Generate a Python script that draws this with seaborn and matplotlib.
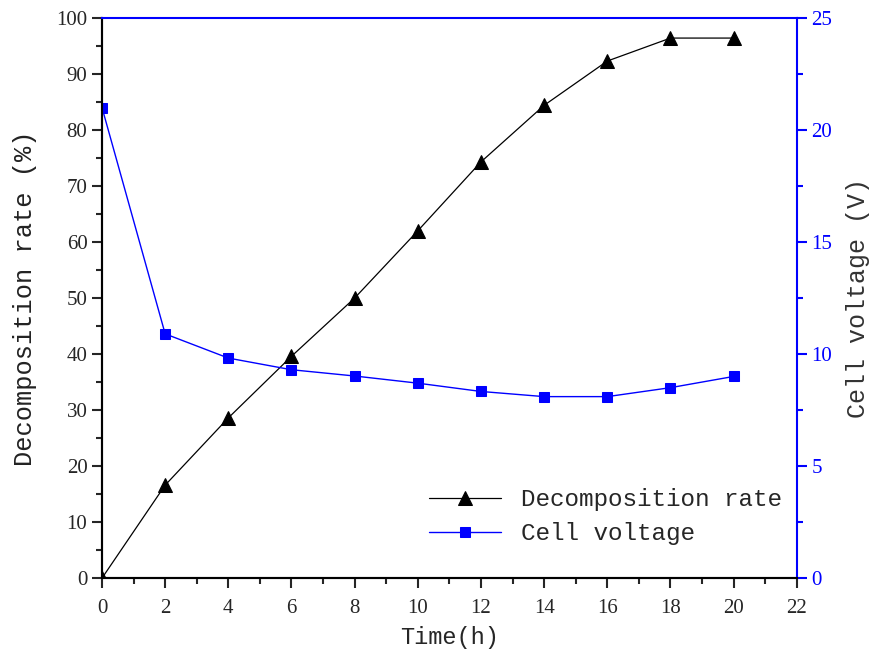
import matplotlib
matplotlib.use("Agg")
import matplotlib.pyplot as plt
import seaborn as sns
import pandas as pd
from matplotlib.ticker import MultipleLocator

time_h = [0, 2, 4, 6, 8, 10, 12, 14, 16, 18, 20]
decomposition = [0, 16.6, 28.6, 39.6, 50.0, 62.0, 74.3, 84.4, 92.3, 96.4, 96.4]
voltage = [21.0, 10.9, 9.82, 9.3, 9.02, 8.7, 8.33, 8.1, 8.1, 8.5, 9.0]

sns.set_style("ticks")
plt.rcParams['font.family'] = ['Liberation Serif', 'DejaVu Sans']

df = pd.DataFrame({"t": time_h, "d": decomposition, "v": voltage})

fig = plt.figure(figsize=(8.74, 6.63), dpi=100)
ax = fig.add_axes([0.1167, 0.128, 0.795, 0.845])
ax2 = ax.twinx()

blue = "#0000ff"
sns.lineplot(data=df, x="t", y="d", ax=ax, color="black", marker="^", markersize=9.5,
             markeredgecolor="black", linewidth=0.9, label="Decomposition rate", legend=False)
sns.lineplot(data=df, x="t", y="v", ax=ax2, color=blue, marker="s", markersize=7,
             markeredgecolor=blue, linewidth=1.0, label="Cell voltage", legend=False)

ax.set_xlim(0, 22)
ax.set_ylim(0, 100)
ax2.set_ylim(0, 25)
ax.xaxis.set_major_locator(MultipleLocator(2))
ax.xaxis.set_minor_locator(MultipleLocator(1))
ax.yaxis.set_major_locator(MultipleLocator(10))
ax.yaxis.set_minor_locator(MultipleLocator(5))
ax2.yaxis.set_major_locator(MultipleLocator(5))
ax2.yaxis.set_minor_locator(MultipleLocator(2.5))

mono = ['Liberation Mono', 'DejaVu Sans Mono']
ax.set_xlabel("Time(h)", fontsize=17, family=mono, labelpad=6)
ax.set_ylabel("Decomposition rate (%)", fontsize=18.3, family=mono, labelpad=14)
ax2.set_ylabel("Cell voltage (V)", fontsize=18, family=mono, labelpad=10)

for a in (ax, ax2):
    a.tick_params(labelsize=15)

ax.tick_params(axis='x', which='major', direction='out', length=7, width=1.5, top=False, pad=8)
ax.tick_params(axis='x', which='minor', direction='out', length=4, width=1.5, top=False)
ax.tick_params(axis='y', which='major', direction='out', length=7, width=1.5)
ax.tick_params(axis='y', which='minor', direction='out', length=4, width=1.5)
ax2.tick_params(axis='y', which='major', direction='out', length=7, width=1.5, colors=blue)
ax2.tick_params(axis='y', which='minor', direction='out', length=4, width=1.5, colors=blue)

# top blue ticks pointing inward
ax2.xaxis.set_major_locator(MultipleLocator(2))
ax2.xaxis.set_minor_locator(MultipleLocator(1))
ax2.tick_params(axis='x', which='both', top=True, bottom=False, labeltop=False,
                labelbottom=False, direction='in', colors=blue, width=1.5)
ax2.tick_params(axis='x', which='major', length=7)
ax2.tick_params(axis='x', which='minor', length=4)

for a in (ax, ax2):
    for s in a.spines.values():
        s.set_linewidth(1.5)
ax2.spines['left'].set_color('black')
ax2.spines['bottom'].set_color('black')
ax2.spines['right'].set_color(blue)
ax2.spines['top'].set_color(blue)
ax.spines['top'].set_visible(False)
ax.spines['right'].set_visible(False)
ax.yaxis.label.set_color('#222222')
ax2.yaxis.label.set_color('#333333')

h1, l1 = ax.get_legend_handles_labels()
h2, l2 = ax2.get_legend_handles_labels()
leg = ax2.legend(h1 + h2, l1 + l2, loc='lower right', bbox_to_anchor=(1.01, 0.02),
                 frameon=False, prop={'family': mono, 'size': 17.5}, handlelength=3.0,
                 labelspacing=0.45)

fig.savefig("out.png", dpi=100)
